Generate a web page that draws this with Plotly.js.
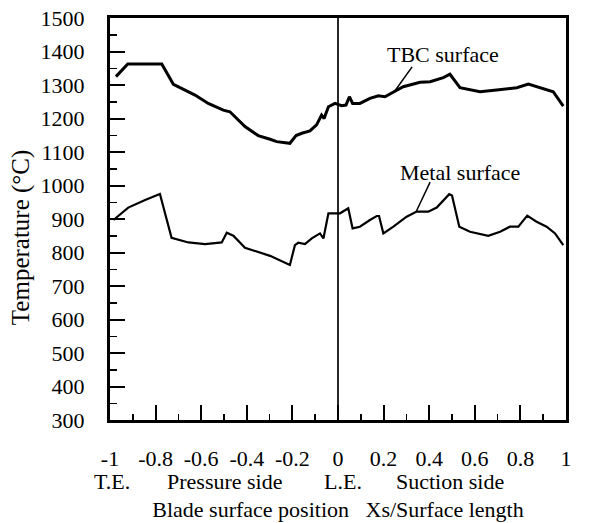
<!DOCTYPE html>
<html>
<head>
<meta charset="utf-8">
<script src="https://cdn.plot.ly/plotly-3.0.1.min.js"></script>
<style>html,body{margin:0;padding:0;background:#fff;}#chart{width:590px;height:523px;}</style>
</head>
<body>
<div id="chart"></div>
<script>
// Blade surface position (Xs / surface length)
const tbcX = [-0.974,-0.922,-0.773,-0.722,-0.627,-0.569,-0.503,-0.474,-0.408,-0.35,-0.298,-0.269,-0.211,-0.184,-0.159,-0.123,-0.094,-0.072,-0.061,-0.042,-0.013,0.016,0.035,0.05,0.064,0.096,0.14,0.177,0.206,0.243,0.286,0.36,0.404,0.462,0.491,0.535,0.623,0.696,0.784,0.835,0.9,0.944,0.988];
const tbcTemp = [1325,1363,1363,1302,1270,1245,1225,1220,1176,1149,1138,1131,1126,1149,1156,1163,1181,1210,1200,1235,1245,1238,1240,1265,1245,1245,1260,1268,1265,1280,1295,1308,1310,1322,1332,1292,1280,1285,1292,1303,1290,1280,1237];

const metalX = [-0.985,-0.92,-0.846,-0.781,-0.73,-0.656,-0.583,-0.51,-0.488,-0.459,-0.408,-0.364,-0.298,-0.211,-0.189,-0.174,-0.145,-0.115,-0.079,-0.064,-0.042,0.009,0.045,0.064,0.096,0.14,0.17,0.18,0.199,0.243,0.301,0.345,0.396,0.433,0.488,0.5,0.532,0.579,0.659,0.711,0.754,0.791,0.83,0.871,0.915,0.952,0.988];
const metalTemp = [897,934,957,975,844,830,825,830,859,850,814,804,790,763,822,829,825,842,857,842,917,917,932,872,877,897,909,909,857,877,907,922,922,934,974,970,877,862,850,862,877,877,910,892,877,857,822];

const xTickVals = [-1,-0.8,-0.6,-0.4,-0.2,0,0.2,0.4,0.6,0.8,1];
const xTickText = ['-1','-0.8','-0.6','-0.4','-0.2','0','0.2','0.4','0.6','0.8','1'];
const regionLabels = ['T.E.','Pressure side','L.E.','Suction side','T.E.'];
const regionX = [-0.99,-0.5,0.02,0.49,1.01];

const seriesLabels = ['TBC surface','Metal surface'];
const labelX = [0.46,0.535];
const labelY = [1390,1040];
const leaderFrom = [[0.325,1354],[0.404,1010]];
const leaderTo = [[0.246,1279],[0.342,921]];

const yTitle = 'Temperature (°C)';
const xTitle = 'Blade surface position   Xs/Surface length';

const FONT = 'Liberation Serif, Times New Roman, serif';

const traces = [
  {x: tbcX, y: tbcTemp, mode:'lines', line:{color:'#000', width:3}, name:'TBC surface', hoverinfo:'x+y'},
  {x: metalX, y: metalTemp, mode:'lines', line:{color:'#000', width:2.2}, name:'Metal surface', hoverinfo:'x+y'}
];

const annotations = [];
regionLabels.forEach((t,i)=>annotations.push({
  text:t, x:regionX[i], xref:'x', y:-0.154, yref:'paper', showarrow:false,
  xanchor:'center', yanchor:'middle', font:{family:FONT,size:22,color:'#000'}
}));
seriesLabels.forEach((t,i)=>annotations.push({
  text:t, x:labelX[i], y:labelY[i], xref:'x', yref:'y', showarrow:false,
  xanchor:'center', yanchor:'middle', font:{family:FONT,size:22,color:'#000'}
}));
annotations.push({
  text:yTitle, x:-0.195, xref:'paper', y:0.455, yref:'paper', showarrow:false,
  textangle:-90, xanchor:'center', yanchor:'middle', font:{family:FONT,size:25,color:'#000'}
});

const shapes = [
  {type:'line', xref:'x', yref:'paper', x0:0, x1:0, y0:0, y1:1, line:{color:'#000', width:1.7}}
];
leaderFrom.forEach((p,i)=>shapes.push({
  type:'line', xref:'x', yref:'y', x0:p[0], y0:p[1], x1:leaderTo[i][0], y1:leaderTo[i][1],
  line:{color:'#000', width:1.5}
}));

const layout = {
  width:590, height:523,
  margin:{l:110, r:24, t:18, b:103},
  paper_bgcolor:'#fff', plot_bgcolor:'#fff',
  showlegend:false,
  font:{family:FONT, size:22, color:'#000'},
  xaxis:{
    range:[-1,1], tickmode:'array', tickvals:xTickVals, ticktext:xTickText,
    ticks:'inside', ticklen:15, tickwidth:2, tickcolor:'#000',
    minor:{ticks:'inside', ticklen:6, tickwidth:1.5, tickcolor:'#000', dtick:0.1, showgrid:false},
    showline:true, linewidth:3, linecolor:'#000', mirror:true,
    showgrid:false, zeroline:false, ticklabelstandoff:17,
    tickfont:{family:FONT, size:22, color:'#000'},
    title:{text:xTitle, standoff:32, font:{family:FONT, size:22, color:'#000'}},
    automargin:false
  },
  yaxis:{
    range:[300,1500], dtick:100,
    ticks:'inside', ticklen:15, tickwidth:2, tickcolor:'#000',
    minor:{ticks:'inside', ticklen:7, tickwidth:1.5, tickcolor:'#000', dtick:50, showgrid:false},
    showline:true, linewidth:3, linecolor:'#000', mirror:true,
    showgrid:false, zeroline:false, ticklabelstandoff:18,
    tickfont:{family:FONT, size:22, color:'#000'},
    automargin:false
  },
  annotations: annotations,
  shapes: shapes
};

Plotly.newPlot('chart', traces, layout, {staticPlot:true, displayModeBar:false});
</script>
</body>
</html>
